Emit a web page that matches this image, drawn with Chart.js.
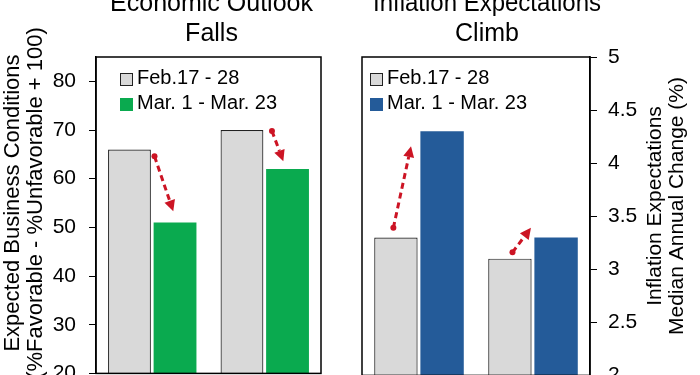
<!DOCTYPE html>
<html>
<head>
<meta charset="utf-8">
<script src="https://cdn.jsdelivr.net/npm/chart.js@4.4.1/dist/chart.umd.min.js"></script>
<style>
  html, body { margin: 0; padding: 0; background: #fff; }
  body { width: 700px; height: 375px; overflow: hidden; position: relative; }
  canvas { position: absolute; top: -11px; }
  #outlookChart { left: 0; }
  #inflationChart { left: 340px; }
</style>
</head>
<body>
<canvas id="outlookChart" width="345" height="410"></canvas>
<canvas id="inflationChart" width="360" height="410"></canvas>
<script>
// Data
const categories = ['Group 1', 'Group 2'];
const periodLabels = ['Feb.17 - 28', 'Mar. 1 - Mar. 23'];

const outlookFeb = [66, 70];
const outlookMar = [51, 62];
const outlookArrowFrom = [64.6, 69.8];
const outlookArrowTo = [53.3, 63.6];

const inflationFeb = [3.3, 3.1];
const inflationMar = [4.3, 3.3];
const inflationArrowFrom = [3.39, 3.16];
const inflationArrowTo = [4.16, 3.39];

const FONT = "'Liberation Sans', Arial, sans-serif";
Chart.defaults.font.family = FONT;
Chart.defaults.color = '#000';

const GRAY = '#D9D9D9';
const GREEN = '#0AAA4F';
const BLUE = '#245B99';
const RED = '#CC1424';

// black frame round the plot area
const plotFrame = {
    id: 'plotFrame',
    afterDraw(chart) {
        const { ctx, chartArea: a } = chart;
        ctx.save();
        ctx.strokeStyle = '#000';
        ctx.lineWidth = 1.5;
        ctx.strokeRect(a.left, a.top, a.right - a.left, a.bottom - a.top);
        ctx.restore();
    }
};

// rotated two-line axis title, reads bottom to top
const sideTitle = {
    id: 'sideTitle',
    afterDraw(chart, args, opts) {
        const ctx = chart.ctx;
        ctx.save();
        ctx.font = opts.size + 'px ' + FONT;
        ctx.fillStyle = '#000';
        ctx.textAlign = 'center';
        ctx.textBaseline = 'middle';
        opts.lines.forEach((line, i) => {
            ctx.save();
            ctx.translate(opts.x + i * opts.lineHeight, opts.y);
            ctx.rotate(-Math.PI / 2);
            ctx.fillText(line, 0, 0);
            ctx.restore();
        });
        ctx.restore();
    }
};

// legend drawn inside the plot area
const insideLegend = {
    id: 'insideLegend',
    afterDraw(chart, args, opts) {
        const { ctx, chartArea } = chart;
        ctx.save();
        ctx.font = opts.size + 'px ' + FONT;
        ctx.textBaseline = 'middle';
        chart.data.datasets.forEach((ds, i) => {
            const x = chartArea.left + opts.left;
            const y = chartArea.top + opts.top + i * opts.rowGap;
            ctx.fillStyle = ds.backgroundColor;
            ctx.fillRect(x, y - 5, 13, 13);
            if (ds.borderWidth) {
                ctx.strokeStyle = '#222';
                ctx.lineWidth = 1;
                ctx.strokeRect(x + 0.5, y - 4.5, 12, 12);
            }
            ctx.fillStyle = '#000';
            ctx.fillText(ds.label, x + 17, y);
        });
        ctx.restore();
    }
};

// dashed red arrows between the two periods
const trendArrows = {
    id: 'trendArrows',
    afterDatasetsDraw(chart, args, opts) {
        const { ctx } = chart;
        const xs = chart.scales.x, ys = chart.scales.y;
        const band = xs.getPixelForValue(1) - xs.getPixelForValue(0);
        ctx.save();
        opts.from.forEach((v0, i) => {
            const x0 = xs.getPixelForValue(i) + opts.dxFrom[i] * band;
            const x1 = xs.getPixelForValue(i) + opts.dxTo[i] * band;
            const y0 = ys.getPixelForValue(v0);
            const y1 = ys.getPixelForValue(opts.to[i]);
            const ang = Math.atan2(y1 - y0, x1 - x0);
            const head = 11;
            const lx = x1 - Math.cos(ang) * head;
            const ly = y1 - Math.sin(ang) * head;
            ctx.strokeStyle = RED;
            ctx.fillStyle = RED;
            ctx.lineWidth = 3;
            ctx.setLineDash([6, 4]);
            ctx.beginPath();
            ctx.moveTo(x0, y0);
            ctx.lineTo(lx, ly);
            ctx.stroke();
            ctx.setLineDash([]);
            ctx.beginPath();
            ctx.arc(x0, y0, 3, 0, Math.PI * 2);
            ctx.fill();
            ctx.beginPath();
            ctx.moveTo(x1, y1);
            ctx.lineTo(lx + Math.sin(ang) * 5.5, ly - Math.cos(ang) * 5.5);
            ctx.lineTo(lx - Math.sin(ang) * 5.5, ly + Math.cos(ang) * 5.5);
            ctx.closePath();
            ctx.fill();
        });
        ctx.restore();
    }
};

// nudge the title sideways from the plot centre
const titleShift = {
    id: 'titleShift',
    afterLayout(chart, args, opts) {
        if (chart.titleBlock) {
            chart.titleBlock.left += opts.dx;
            chart.titleBlock.right += opts.dx;
        }
    }
};

function buildChart(id, cfg) {
    const ctx = document.getElementById(id).getContext('2d');
    return new Chart(ctx, {
        type: 'bar',
        data: {
            labels: categories,
            datasets: [{
                label: periodLabels[0],
                data: cfg.feb,
                backgroundColor: GRAY,
                borderColor: '#222',
                borderWidth: 1.2,
                borderSkipped: false
            }, {
                label: periodLabels[1],
                data: cfg.mar,
                backgroundColor: cfg.color,
                borderWidth: 0
            }]
        },
        options: {
            responsive: false,
            animation: false,
            devicePixelRatio: 1,
            barPercentage: 0.94,
            categoryPercentage: 0.81,
            layout: { padding: cfg.padding },
            plugins: {
                legend: { display: false },
                tooltip: { enabled: false },
                title: {
                    display: true,
                    text: cfg.title,
                    fullSize: false,
                    color: '#000',
                    font: { size: 25, weight: 'normal', lineHeight: 1.2 },
                    padding: { top: 0, bottom: 8 }
                },
                titleShift: { dx: cfg.titleDx },
                sideTitle: cfg.sideTitle,
                insideLegend: cfg.legend,
                trendArrows: cfg.arrows
            },
            scales: {
                x: { display: false },
                y: {
                    position: cfg.axisPos,
                    min: cfg.min,
                    max: cfg.max,
                    afterFit: scale => { scale.width = cfg.axisWidth; },
                    border: { display: true, color: '#000', width: 1.5 },
                    grid: {
                        drawOnChartArea: false,
                        drawTicks: true,
                        tickLength: 7,
                        color: '#000',
                        lineWidth: 1
                    },
                    ticks: {
                        stepSize: cfg.step,
                        includeBounds: false,
                        padding: cfg.tickPad,
                        color: '#000',
                        font: { size: 21 },
                        callback: value => value.toString()
                    }
                }
            }
        },
        plugins: [plotFrame, sideTitle, insideLegend, trendArrows, titleShift]
    });
}

buildChart('outlookChart', {
    feb: outlookFeb,
    mar: outlookMar,
    color: GREEN,
    title: ['Economic Outlook', 'Falls'],
    titleDx: 3,
    axisPos: 'left',
    axisWidth: 56,
    min: 20, max: 85, step: 10,
    tickPad: 13,
    padding: { left: 40, right: 24, top: 0, bottom: 16 },
    sideTitle: {
        lines: ['Expected Business Conditions', '(%Favorable - %Unfavorable + 100)'],
        x: 13, y: 214, lineHeight: 23, size: 22
    },
    legend: { left: 24, top: 21, rowGap: 25, size: 20 },
    arrows: {
        from: outlookArrowFrom, to: outlookArrowTo,
        dxFrom: [0.02, 0.064], dxTo: [0.187, 0.165]
    }
});

buildChart('inflationChart', {
    feb: inflationFeb,
    mar: inflationMar,
    color: BLUE,
    title: ['Inflation Expectations', 'Climb'],
    titleDx: 11,
    axisPos: 'right',
    axisWidth: 50,
    min: 2, max: 5, step: 0.5,
    tickPad: 11,
    padding: { left: 22, right: 60, top: 0, bottom: 16 },
    sideTitle: {
        lines: ['Inflation Expectations', 'Median Annual Change (%)'],
        x: 315, y: 217, lineHeight: 22, size: 21
    },
    legend: { left: 8, top: 21, rowGap: 25, size: 20 },
    arrows: {
        from: inflationArrowFrom, to: inflationArrowTo,
        dxFrom: [-0.225, -0.18], dxTo: [-0.07, -0.018]
    }
});
</script>
</body>
</html>
